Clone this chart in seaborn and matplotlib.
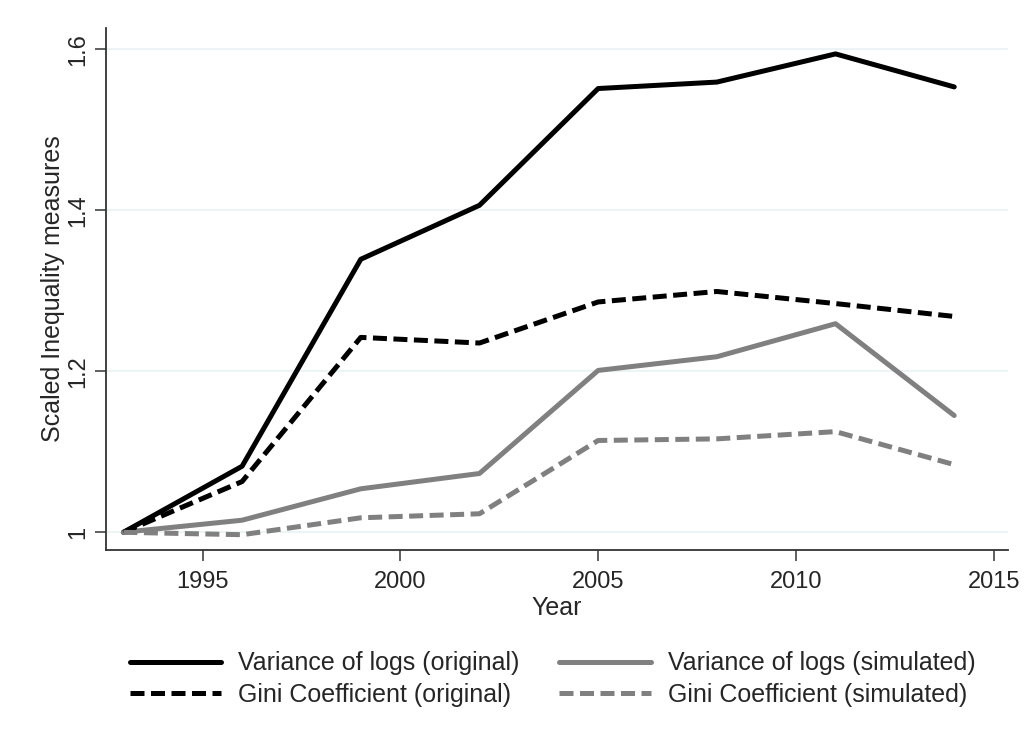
import matplotlib
matplotlib.use("Agg")
import matplotlib.pyplot as plt
import seaborn as sns
import pandas as pd
from matplotlib.lines import Line2D

years = [1993, 1996, 1999, 2002, 2005, 2008, 2011, 2014]
var_orig = [1.000, 1.082, 1.339, 1.406, 1.551, 1.559, 1.594, 1.553]
gini_orig = [1.000, 1.063, 1.242, 1.235, 1.286, 1.299, 1.284, 1.268]
var_sim = [1.000, 1.015, 1.054, 1.073, 1.201, 1.218, 1.259, 1.145]
gini_sim = [1.000, 0.997, 1.018, 1.023, 1.114, 1.116, 1.125, 1.084]

names = ["Variance of logs (original)", "Variance of logs (simulated)",
         "Gini Coefficient (original)", "Gini Coefficient (simulated)"]
series = [var_orig, var_sim, gini_orig, gini_sim]
y_ticks = [1.0, 1.2, 1.4, 1.6]
y_ticklabels = ["1", "1.2", "1.4", "1.6"]
x_ticks = [1995, 2000, 2005, 2010, 2015]

rows = []
for n, s in zip(names, series):
    for yr, v in zip(years, s):
        rows.append({"Year": yr, "value": v, "series": n})
df = pd.DataFrame(rows)

sns.set_theme(style="white")
plt.rcParams['font.family'] = ['Liberation Sans', 'DejaVu Sans']

palette = {names[0]: "#000000", names[1]: "#808080",
           names[2]: "#000000", names[3]: "#808080"}
dash_pat = (2.8, 1.3)
dashes = {names[0]: "", names[1]: "", names[2]: dash_pat, names[3]: dash_pat}

fig = plt.figure(figsize=(10.29, 7.52), dpi=100)
ax = fig.add_axes([0.103, 0.2686, 0.877, 0.694])

for y in y_ticks:
    ax.axhline(y, color="#EAF2F3", lw=1.2, zorder=0)

sns.lineplot(data=df, x="Year", y="value", hue="series", style="series",
             palette=palette, dashes=dashes, lw=3.6, ax=ax, legend=False,
             hue_order=names, style_order=names)

ax.set_xlim(1992.56, 2015.37)
ax.set_ylim(0.978, 1.626)
ax.set_xticks(x_ticks)
ax.set_xticklabels([str(x) for x in x_ticks], fontsize=17)
ax.set_yticks(y_ticks)
ax.set_yticklabels(y_ticklabels, fontsize=17, rotation=90, va="center")
ax.tick_params(axis="both", direction="out", length=8, width=1.2,
               color="#444444", left=True, bottom=True)
ax.tick_params(axis="x", pad=7)
ax.tick_params(axis="y", pad=4)
for side in ["top", "right"]:
    ax.spines[side].set_visible(False)
for side in ["left", "bottom"]:
    ax.spines[side].set_color("#333333")
    ax.spines[side].set_linewidth(1.3)

ax.set_xlabel("Year", fontsize=18, labelpad=2)
ax.set_ylabel("Scaled Inequality measures", fontsize=18, labelpad=2)

handles = []
for n in names:
    ls = "-" if dashes[n] == "" else (0, dashes[n])
    handles.append(Line2D([], [], color=palette[n], lw=3.6, linestyle=ls))
order = [0, 2, 1, 3]
leg = fig.legend([handles[i] for i in order], [names[i] for i in order],
                 loc="center", bbox_to_anchor=(0.537, 0.097), ncol=2,
                 frameon=False, fontsize=18, handlelength=3.65,
                 handletextpad=0.68, columnspacing=1.6, labelspacing=0.3)

fig.savefig("out.png", dpi=100, facecolor="white")
